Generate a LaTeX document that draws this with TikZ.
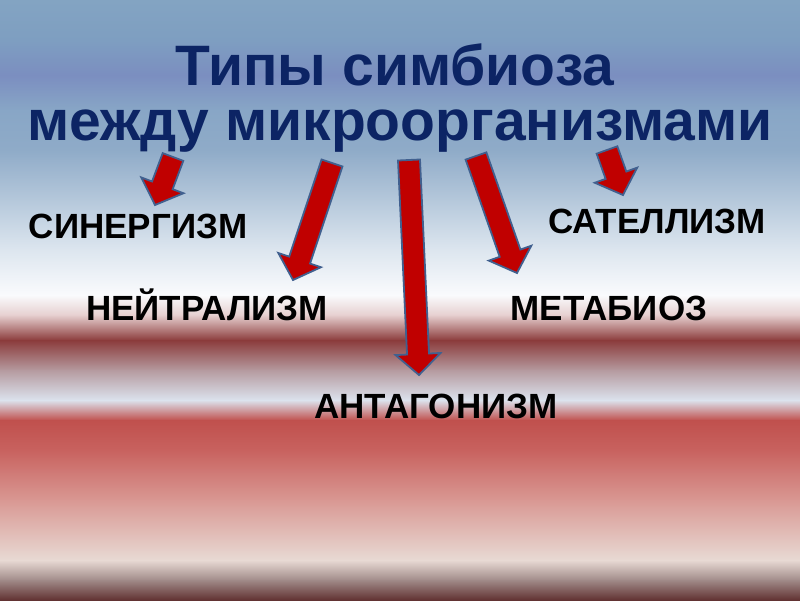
\documentclass[tikz,border=0pt]{standalone}
\usepackage{fontspec}
\setmainfont{Liberation Sans}
\usepackage{xcolor}
\definecolor{titleblue}{RGB}{12,36,100}
\definecolor{arrowred}{RGB}{192,0,0}
\definecolor{arrowedge}{RGB}{65,96,143}
% background bands, top to bottom
\definecolor{bgone}{RGB}{131,164,194}
\definecolor{bgtwo}{RGB}{126,158,193}
\definecolor{bgthree}{RGB}{123,142,192}
\definecolor{bgfour}{RGB}{136,166,198}
\definecolor{bgfive}{RGB}{143,171,200}
\definecolor{bgsix}{RGB}{181,200,219}
\definecolor{bgseven}{RGB}{221,230,239}
\definecolor{bgeight}{RGB}{250,251,253}
\definecolor{bgnine}{RGB}{230,207,207}
\definecolor{bgten}{RGB}{139,59,59}
\definecolor{bgeleven}{RGB}{181,154,159}
\definecolor{bgtwelve}{RGB}{220,227,238}
\definecolor{bgthirteen}{RGB}{192,80,77}
\definecolor{bgfourteen}{RGB}{200,98,95}
\definecolor{bgfifteen}{RGB}{217,152,147}
\definecolor{bgsixteen}{RGB}{232,218,212}
\definecolor{bgseventeen}{RGB}{160,138,136}
\definecolor{bgeighteen}{RGB}{96,48,48}
\usepackage{tikz}
\usetikzlibrary{calc}

% block arrow from tail coordinate #1 to tip coordinate #2
\newcommand{\blockarrow}[2]{%
  \coordinate (#1-h) at ($(#2)!21pt!(#1)$);
  \filldraw[arrowbody] ($(#1)!11pt!90:(#2)$) -- ($(#1-h)!11pt!90:(#2)$)
    -- ($(#1-h)!22.5pt!90:(#2)$) -- (#2) -- ($(#1-h)!22.5pt!-90:(#2)$)
    -- ($(#1-h)!11pt!-90:(#2)$) -- ($(#1)!11pt!-90:(#2)$) -- cycle;
}

\begin{document}
\begin{tikzpicture}[x=1pt,y=-1pt,
    arrowbody/.style={fill=arrowred, draw=arrowedge, line width=1.8pt},
    kind/.style={font=\fontsize{35}{40}\selectfont\bfseries, text=black, anchor=base, inner sep=0pt},
    heading/.style={font=\fontsize{57}{60}\selectfont\bfseries, text=titleblue, anchor=base, inner sep=0pt}]
    \useasboundingbox (0,0) rectangle (800,600);
    % Background in horizontal bands
    \foreach \ya/\yb/\ca/\cb in {0/40/bgone/bgtwo, 40/75/bgtwo/bgthree, 75/110/bgthree/bgfour,
        110/150/bgfour/bgfive, 150/200/bgfive/bgsix, 200/250/bgsix/bgseven,
        250/295/bgseven/bgeight, 295/315/bgeight/bgnine, 315/340/bgnine/bgten,
        340/370/bgten/bgeleven, 370/400/bgeleven/bgtwelve, 400/420/bgtwelve/bgthirteen,
        420/450/bgthirteen/bgfourteen, 450/500/bgfourteen/bgfifteen, 500/560/bgfifteen/bgsixteen,
        560/580/bgsixteen/bgseventeen, 580/600/bgseventeen/bgeighteen}
        \shade[top color=\ca, bottom color=\cb] (0,\ya) rectangle (800,\yb+0.6);

    % Title
    \node[heading] (title1) at (395,85) {Типы симбиоза};
    \node[heading] (title2) at (400,140) {между микроорганизмами};

    % Kinds of symbiosis
    \node[kind] (synergism) at (138,238) {СИНЕРГИЗМ};
    \node[kind] (satellism) at (657,233) {САТЕЛЛИЗМ};
    \node[kind] (neutralism) at (207,320) {НЕЙТРАЛИЗМ};
    \node[kind] (metabiosis) at (609,320) {МЕТАБИОЗ};
    \node[kind] (antagonism) at (436,418) {АНТАГОНИЗМ};

    % Arrow ends
    \coordinate (synA) at (173,157);  \coordinate (synB) at (155,205);
    \coordinate (neuA) at (332,163);  \coordinate (neuB) at (293,280);
    \coordinate (antA) at (409,160);  \coordinate (antB) at (419,375);
    \coordinate (metA) at (476,156);  \coordinate (metB) at (517,273);
    \coordinate (satA) at (607,150);  \coordinate (satB) at (623,195);

    % Arrows
    \blockarrow{synA}{synB}
    \blockarrow{neuA}{neuB}
    \blockarrow{antA}{antB}
    \blockarrow{metA}{metB}
    \blockarrow{satA}{satB}
\end{tikzpicture}
\end{document}
